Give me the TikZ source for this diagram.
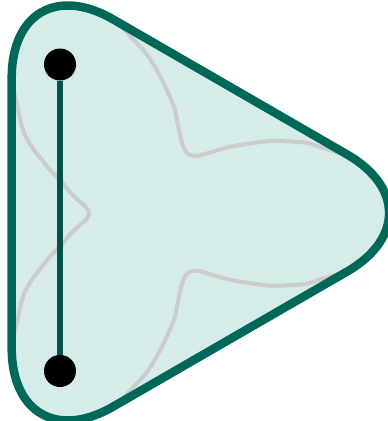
\documentclass[tikz,border=0pt]{standalone}
\usepackage{tikz}
\definecolor{rimgreen}{RGB}{0,104,88}
\definecolor{bondgreen}{RGB}{0,84,70}
\definecolor{paleteal}{RGB}{213,236,233}
\definecolor{curvegray}{RGB}{204,204,204}

\begin{document}
\begin{tikzpicture}[
    x=1pt, y=-1pt,
    rim/.style={draw=rimgreen, line width=8.5pt, rounded corners=117.1pt, line join=round},
    body/.style={fill=paleteal, rounded corners=117.1pt},
    lobe/.style={draw=curvegray, line width=4pt, line cap=round},
    bond/.style={draw=bondgreen, line width=5.5pt},
    dot/.style={circle, fill=black, minimum size=32pt, inner sep=0pt}
]
    \useasboundingbox (0,0) rectangle (388,421);

    % rounded triangle: fill first, outline last
    \path[body] (11.7,-39.2) -- (448.5,213) -- (11.7,465.2) -- cycle;

    \draw[lobe] plot[smooth, tension=0.6] coordinates {
        (12,84) (16,100) (23,130) (32,147) (42,160) (50,170) (60,180) (70,192)
        (78,200) (86,207) (89,213.3) (86,219.6) (78,226.6) (70,234.6) (60,246.6)
        (50,256.6) (42,266.6) (32,279.6) (23,296.6) (16,326.6) (12,342.6)};
    \draw[lobe] plot[smooth, tension=0.6] coordinates {
        (123,28) (132,38) (145,52) (155,67) (163,82) (170,97) (175,110) (178,125)
        (182,143) (187,153) (195,156) (205,154) (225,148) (240,145) (270,141)
        (290,141.5) (307,143) (320,147) (340,153)};
    \draw[lobe] plot[smooth, tension=0.6] coordinates {
        (123,398.6) (132,388.6) (145,374.6) (155,359.6) (163,344.6) (170,329.6)
        (175,316.6) (178,301.6) (182,283.6) (187,273.6) (195,270.6) (205,272.6)
        (225,278.6) (240,281.6) (270,285.6) (290,285.1) (307,283.6) (320,279.6)
        (340,273.6)};

    \draw[rim] (11.7,-39.2) -- (448.5,213) -- (11.7,465.2) -- cycle;

    \foreach \n/\y in {top/64.5,bot/371} {
        \node[dot] (\n) at (60,\y) {};
    }
    \draw[bond] (top) -- (bot);
\end{tikzpicture}
\end{document}
